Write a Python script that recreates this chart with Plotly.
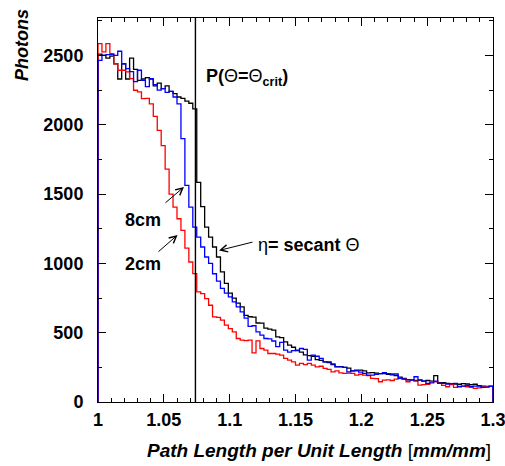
import numpy as np
import plotly.graph_objects as go

# ---- data: 100 bins of width 0.003 from 1.0 to 1.3 ----
x_min, x_max, n_bins = 1.0, 1.3, 100

black_secant = [
    2510, 2500, 2480, 2495, 2440, 2330, 2440, 2330, 2480, 2400,
    2320, 2330, 2340, 2330, 2280, 2300, 2260, 2280, 2240, 2225,
    2200, 2190, 2170, 2155, 2115, 1584, 1410, 1262, 1190, 1118,
    1046, 938, 856, 785, 749, 713, 686, 625, 615, 612,
    570, 569, 533, 525, 518, 470, 465, 434, 410, 395,
    370, 360, 340, 335, 330, 305, 300, 290, 285, 270,
    255, 255, 250, 245, 225, 230, 230, 225, 210, 212,
    208, 205, 205, 200, 195, 190, 180, 170, 160, 160,
    155, 158, 150, 155, 150, 190, 140, 140, 135, 130,
    130, 128, 132, 130, 125, 128, 118, 115, 112, 115,
]

blue_8cm = [
    2465, 2500, 2506, 2506, 2500, 2530, 2440, 2405, 2383, 2311,
    2393, 2320, 2275, 2333, 2290, 2250, 2260, 2234, 2240, 2200,
    2150, 1900, 1562, 1406, 1262, 1190, 1118, 1046, 1000, 925,
    872, 820, 785, 758, 722, 686, 650, 605, 545, 550,
    506, 482, 458, 455, 440, 400, 430, 374, 360, 370,
    374, 386, 380, 302, 338, 330, 314, 290, 290, 275,
    254, 254, 250, 218, 225, 225, 215, 206, 194, 194,
    200, 205, 211, 205, 202, 202, 170, 165, 162, 158,
    182, 160, 150, 134, 138, 150, 134, 134, 130, 132,
    134, 110, 115, 120, 112, 115, 115, 106, 108, 112,
]

red_2cm = [
    2585, 2525, 2585, 2513, 2440, 2393, 2393, 2381, 2333, 2249,
    2237, 2189, 2190, 2150, 2060, 1960, 1850, 1680, 1500, 1406,
    1322, 1238, 1110, 1010, 926, 794, 782, 746, 698, 614,
    610, 590, 554, 530, 506, 458, 446, 443, 446, 355,
    441, 386, 374, 350, 350, 345, 338, 314, 302, 290,
    266, 278, 270, 278, 266, 254, 258, 242, 235, 218,
    225, 210, 206, 208, 206, 194, 200, 194, 190, 170,
    168, 146, 158, 160, 155, 165, 170, 165, 146, 160,
    150, 122, 125, 128, 146, 146, 135, 120, 110, 125,
    106, 112, 115, 110, 105, 98, 102, 108, 110, 112,
]

theta_crit_x = 1.074
y_max = 2770
x_ticks = [1.0, 1.05, 1.1, 1.15, 1.2, 1.25, 1.3]
x_tick_labels = ["1", "1.05", "1.1", "1.15", "1.2", "1.25", "1.3"]
y_ticks = [0, 500, 1000, 1500, 2000, 2500]
y_tick_labels = ["0", "500", "1000", "1500", "2000", "2500"]

edges = np.linspace(x_min, x_max, n_bins + 1)


def step_xy(values):
    xs = [edges[0]] + list(edges[:-1]) + [edges[-1]]
    ys = [0] + list(values) + [0]
    return xs, ys


FONT = "Liberation Sans"
fig = go.Figure()
for vals, col in [(black_secant, "black"), (red_2cm, "red"), (blue_8cm, "blue")]:
    xs, ys = step_xy(vals)
    fig.add_trace(go.Scatter(x=xs, y=ys, mode="lines", line=dict(color=col, width=1.3, shape="hv"),
                             showlegend=False, hoverinfo="skip"))

fig.add_shape(type="line", x0=theta_crit_x, x1=theta_crit_x, y0=0, y1=1, xref="x", yref="paper",
              line=dict(color="black", width=1.4))

axis_common = dict(showline=True, linecolor="black", linewidth=1, mirror="allticks", ticks="inside",
                   tickcolor="black", ticklen=8, tickwidth=1, showgrid=False, zeroline=False,
                   ticklabeloverflow="allow",
                   tickfont=dict(family=FONT, size=18, color="black", weight="bold"))

eps = 1e-6
fig.update_xaxes(range=[x_min - eps, x_max + eps], tickvals=x_ticks, ticktext=x_tick_labels,
                 minor=dict(dtick=0.01, ticklen=4, ticks="inside", tickcolor="black", tickwidth=1),
                 ticklabelstandoff=1, **axis_common)
fig.update_yaxes(range=[0, y_max], tickvals=y_ticks, ticktext=y_tick_labels,
                 minor=dict(dtick=250, ticklen=4, ticks="inside", tickcolor="black", tickwidth=1),
                 ticklabelstandoff=10, **axis_common)

afont = dict(family=FONT, size=18, color="black")
tfont = dict(family=FONT, size=19, color="black")
ann = []
ann.append(dict(text="<b><i>Path Length per Unit Length </i></b>[<b><i>mm/mm</i></b>]", xref="paper", yref="paper",
                x=1.0, y=-0.125, xanchor="right", yanchor="middle", showarrow=False, font=tfont))
ann.append(dict(text="<b><i>Photons</i></b>", xref="paper", yref="paper", x=-0.192, y=0.93,
                xanchor="center", yanchor="middle", textangle=-90, showarrow=False, font=afont))
ann.append(dict(text="<b>P(</b>Θ<b>=</b>Θ<b><sub>crit</sub>)</b>", xref="x", yref="y", x=1.0805, y=2344,
                xanchor="left", yanchor="middle", showarrow=False, font=afont))
ann.append(dict(text="η<b>= secant </b>Θ", xref="x", yref="y", x=1.120, y=1133,
                xanchor="left", yanchor="middle", showarrow=False, font=afont))
ann.append(dict(text="<b>8cm</b>", xref="x", yref="y", x=1.0494, y=1313,
                xanchor="right", yanchor="middle", showarrow=False, font=afont))
ann.append(dict(text="<b>2cm</b>", xref="x", yref="y", x=1.0494, y=995,
                xanchor="right", yanchor="middle", showarrow=False, font=afont))
for (tx, ty, hx, hy) in [(1.1185, 1156, 1.0919, 1093), (1.0501, 1428, 1.0653, 1551), (1.0448, 1075, 1.0604, 1205)]:
    ann.append(dict(text="", x=hx, y=hy, ax=tx, ay=ty, xref="x", yref="y", axref="x", ayref="y",
                    showarrow=True, arrowhead=5, arrowsize=1.4, arrowwidth=1, arrowcolor="black", standoff=0))

fig.update_layout(width=505, height=466, margin=dict(l=98, r=12, t=18, b=64, autoexpand=False),
                  plot_bgcolor="white", paper_bgcolor="white", annotations=ann, showlegend=False)

fig.write_html("out.html")
